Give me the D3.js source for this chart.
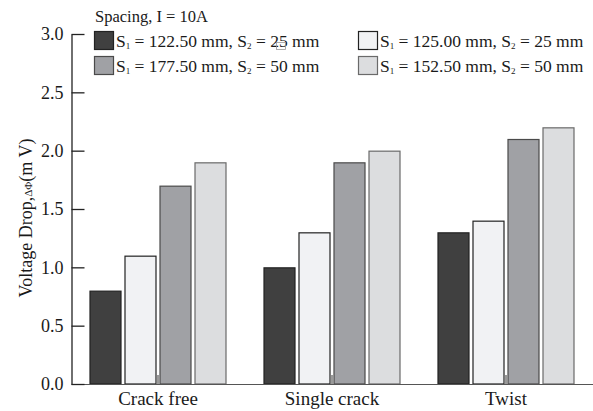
<!DOCTYPE html>
<html><head><meta charset="utf-8">
<script src="https://cdn.jsdelivr.net/npm/d3@7"></script>
<style>body{margin:0;background:#fff}svg{display:block}text{font-family:"Liberation Serif","Times New Roman",serif;fill:#1a1a1a}</style>
</head><body>
<script>
const categories = ["Crack free", "Single crack", "Twist"];
const seriesNames = [
  ["122.50", "25"],
  ["125.00", "25"],
  ["177.50", "50"],
  ["152.50", "50"]
];
const s1_122 = [0.8, 1.0, 1.3];
const s1_125 = [1.1, 1.3, 1.4];
const s1_177 = [1.7, 1.9, 2.1];
const s1_152 = [1.9, 2.0, 2.2];
const seriesValues = [s1_122, s1_125, s1_177, s1_152];
const yTicks = [0.0, 0.5, 1.0, 1.5, 2.0, 2.5, 3.0];
const fills = ["#404040", "#f1f2f4", "#a0a1a5", "#dcdddf"];
const strokes = ["#222", "#222", "#4a4a4a", "#6a6a6a"];

const W = 593, H = 411;
const svg = d3.select("body").append("svg").attr("width", W).attr("height", H);

const y = d3.scaleLinear().domain([0, 3]).range([384, 34]);
const x0 = d3.scaleBand().domain(categories).range([71, 593]).padding(0);
const x1 = d3.scaleBand().domain(d3.range(4)).range([18.5, 155.5]).paddingInner(3/35).paddingOuter(0);

// bars
categories.forEach((c, ci) => {
  const g = svg.append("g").attr("transform", `translate(${x0(c)},0)`);
  g.selectAll("rect").data(seriesValues.map((s, si) => ({si, v: s[ci]})))
    .join("rect")
    .attr("x", d => x1(d.si) + 0.5)
    .attr("y", d => y(d.v) + 0.5)
    .attr("width", x1.bandwidth() - 1)
    .attr("height", d => y(0) - y(d.v) - 0.5)
    .attr("fill", d => fills[d.si])
    .attr("stroke", d => strokes[d.si])
    .attr("stroke-width", 1.2);
});

// x axis
const xAxis = svg.append("g").attr("transform", "translate(0,384)")
  .call(d3.axisBottom(x0).tickSizeInner(-9).tickSizeOuter(0));
xAxis.select(".domain").attr("stroke", "#555").attr("stroke-width", 1.2);
xAxis.selectAll(".tick line").attr("stroke", "#555").attr("stroke-width", 1.2);
xAxis.selectAll(".tick text").attr("font-size", 19).attr("fill", "#1a1a1a")
  .attr("font-family", '"Liberation Serif",serif').attr("y", 8).attr("dy", "0.71em");

// y axis
const yAxis = svg.append("g").attr("transform", "translate(71.5,0)")
  .call(d3.axisLeft(y).tickValues(yTicks).tickFormat(d3.format(".1f")).tickSizeInner(-13).tickSizeOuter(0).tickPadding(8));
yAxis.select(".domain").attr("stroke", "#222").attr("stroke-width", 1.3);
yAxis.selectAll(".tick line").attr("stroke", "#222").attr("stroke-width", 1.3);
yAxis.selectAll(".tick text").attr("font-size", 18).attr("fill", "#1a1a1a")
  .attr("font-family", '"Liberation Serif",serif');

// y label
const yl = svg.append("text").attr("transform", "translate(32,218) rotate(-90)")
  .attr("text-anchor", "middle").attr("font-size", 18);
yl.append("tspan").text("Voltage Drop,");
yl.append("tspan").attr("font-size", 11).text("ΔΦ");
yl.append("tspan").text("(m V)");

// legend
svg.append("text").attr("x", 95).attr("y", 22).attr("font-size", 16.5).text("Spacing, I = 10A");
const legendPos = [
  {x: 94, y: 31}, {x: 358, y: 31}, {x: 94, y: 56}, {x: 358, y: 56}
];
seriesNames.forEach((n, i) => {
  const p = legendPos[i];
  svg.append("rect").attr("x", p.x + 0.5).attr("y", p.y + 0.5).attr("width", 19).attr("height", 18)
    .attr("fill", fills[i]).attr("stroke", strokes[i]).attr("stroke-width", 1.2);
  const t = svg.append("text").attr("x", p.x + 22).attr("y", p.y + 16).attr("font-size", 17.5);
  t.append("tspan").text("S");
  t.append("tspan").attr("font-size", 9).attr("dy", 2).text("1");
  t.append("tspan").attr("dy", -2).text(` = ${n[0]} mm, S`);
  t.append("tspan").attr("font-size", 9).attr("dy", 2).text("2");
  t.append("tspan").attr("dy", -2).text(` = ${n[1]} mm`);
});
svg.append("rect").attr("x", 276.5).attr("y", 42.5).attr("width", 9).attr("height", 7)
  .attr("fill", "none").attr("stroke", "#999").attr("stroke-width", 0.8);
</script>
</body></html>
